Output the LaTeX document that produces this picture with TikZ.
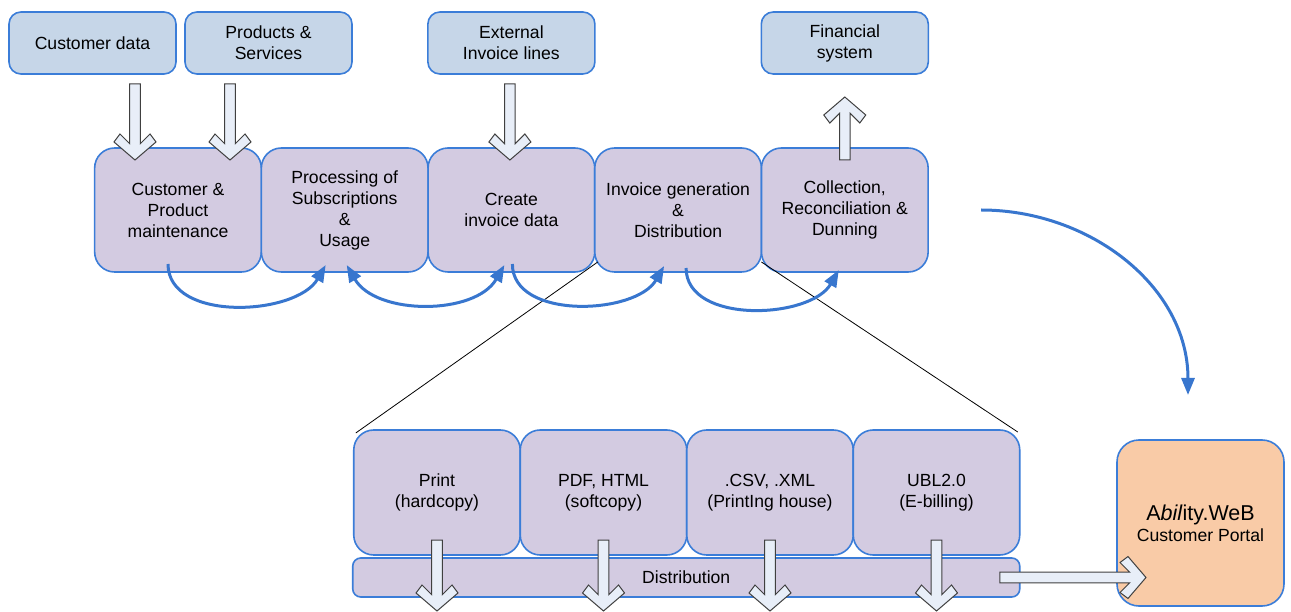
\documentclass[tikz,border=0pt]{standalone}
\usepackage{fontspec}
\setmainfont{Liberation Sans}
\usetikzlibrary{arrows.meta, positioning, calc}
\definecolor{boxline}{RGB}{59, 125, 216}
\definecolor{inputfill}{RGB}{198, 214, 232}
\definecolor{stagefill}{RGB}{211, 203, 225}
\definecolor{portalfill}{RGB}{249, 203, 167}
\definecolor{flowblue}{RGB}{56, 118, 206}
\definecolor{hollowfill}{RGB}{232, 238, 248}
\definecolor{hollowline}{RGB}{64, 64, 64}

% hollow block arrow from #1 (tail) to #2 (tip)
\newcommand{\blockarrow}[2]{%
  \draw[hollow] let \p1=(#1), \p2=(#2),
      \n1={atan2(\y2-\y1,\x2-\x1)}, \n2={veclen(\x2-\x1,\y2-\y1)} in
    [shift={(\p2)}, rotate=\n1]
    (-\n2,5.3) -- (-16.3,5.3) -- (-26,15) -- (-18,21) -- (0,0)
    -- (-18,-21) -- (-26,-15) -- (-16.3,-5.3) -- (-\n2,-5.3) -- cycle;}

\begin{document}
\begin{tikzpicture}[
    x=1pt, y=1pt,
    base/.style={draw=boxline, line width=1.6pt, outer sep=0pt, align=center, font=\fontsize{17.6}{21}\selectfont},
    source/.style={base, fill=inputfill, rounded corners=12pt, minimum width=167pt, minimum height=62pt},
    stage/.style={base, fill=stagefill, rounded corners=20pt, minimum width=166.7pt, minimum height=124pt},
    channel/.style={base, fill=stagefill, rounded corners=20pt, minimum width=166.5pt, minimum height=125pt},
    distbar/.style={base, fill=stagefill, rounded corners=8pt, minimum width=667pt, minimum height=39pt},
    portal/.style={base, fill=portalfill, rounded corners=22pt, minimum width=167pt, minimum height=166pt},
    flow/.style={-{Triangle[length=17pt, width=13pt]}, line width=3pt, flowblue},
    hollow/.style={draw=hollowline, fill=hollowfill, line width=1pt, line join=miter},
    link/.style={black, line width=0.8pt}
]
    \useasboundingbox (0,0) rectangle (1291,-612);

    % Nodes - process row
    \node[stage] (cpm) at (178,-210) {Customer \&\\Product\\maintenance};
    \node[stage, right=0pt of cpm] (proc) {Processing of\\Subscriptions\\\&\\Usage};
    \node[stage, right=0pt of proc] (create) {Create\\invoice data};
    \node[stage, right=0pt of create] (invgen) {Invoice generation\\\&\\Distribution};
    \node[stage, right=0pt of invgen] (coll) {Collection,\\Reconciliation \&\\Dunning};

    % Nodes - sources
    \node[source] (cdata) at (92.5,-43) {Customer data};
    \node[source, right=9pt of cdata] (prod) {Products \&\\Services};
    \node[source, above=74pt of create] (ext) {External\\Invoice lines};
    \node[source, above=74pt of coll] (fin) {Financial\\system};

    % Nodes - output channels
    \node[channel] (print) at (437,-492.5) {Print\\(hardcopy)};
    \node[channel, right=0pt of print] (pdf) {PDF, HTML\\(softcopy)};
    \node[channel, right=0pt of pdf] (csv) {.CSV, .XML\\(PrintIng house)};
    \node[channel, right=0pt of csv] (ubl) {UBL2.0\\(E-billing)};
    \node[distbar, anchor=north west] (dist) at ($(print.south west)+(-1,-3)$) {Distribution};
    \node[portal] (ability) at (1200.5,-523) {{\fontsize{21.5}{25}\selectfont A\textit{bil}ity.WeB}\\Customer Portal};

    % Zoom lines
    \draw[link] ($(invgen.south west)+(3,10)$) -- ($(print.north west)+(2,-3)$);
    \draw[link] ($(invgen.south east)+(0,10)$) -- ($(ubl.north east)+(-2,-2)$);

    % Hollow arrows
    \blockarrow{$(cpm.north)+(-43,64)$}{$(cpm.north)+(-43,-12)$}
    \blockarrow{$(cpm.north)+(52,64)$}{$(cpm.north)+(52,-12)$}
    \blockarrow{$(create.north)+(-1.5,64)$}{$(create.north)+(-1.5,-12)$}
    \blockarrow{$(coll.north)+(0,-12)$}{$(fin.south)+(0,-23)$}
    \foreach \ch in {print, pdf, csv, ubl}{
        \blockarrow{$(\ch.south)+(0,15)$}{$(\ch.south)+(0,-56)$}
    }
    \blockarrow{$(dist.east)+(-20,0)$}{$(dist.east -| ability.west)+(29,0)$}

    % Flow arrows
    \draw[flow] ($(cpm.south)+(-10,8)$) to[out=-90, in=-120, looseness=0.95] ($(proc.south)+(-19,7)$);
    \draw[flow, {Triangle[length=17pt, width=13pt]}-{Triangle[length=17pt, width=13pt]}] ($(proc.south)+(2,7)$) to[out=-60, in=-120, looseness=0.95] ($(create.south)+(-7,7)$);
    \draw[flow] ($(create.south)+(1,8)$) to[out=-90, in=-120, looseness=0.95] ($(invgen.south)+(-14,6)$);
    \draw[flow] ($(invgen.south)+(8,4)$) to[out=-90, in=-120, looseness=0.95] ($(coll.south)+(-6,2)$);
    \draw[flow] ($(coll.east)+(53,0)$) to[out=0, in=90] ($(ability.north)+(-12.5,45)$);
\end{tikzpicture}
\end{document}
